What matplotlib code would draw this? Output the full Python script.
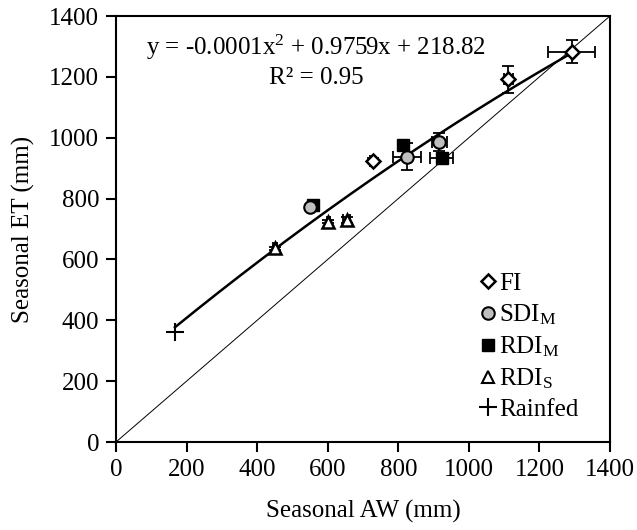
import numpy as np
import matplotlib
matplotlib.use("Agg")
import matplotlib.pyplot as plt
from matplotlib.lines import Line2D

plt.rcParams['font.family'] = ['Liberation Serif', 'DejaVu Serif']
plt.rcParams['mathtext.fontset'] = 'custom'
plt.rcParams['mathtext.rm'] = 'Liberation Serif'
plt.rcParams['mathtext.it'] = 'Liberation Serif:italic'

# ---- data ----
fi_x = [1291, 1112, 727]
fi_y = [1283, 1192, 924]
fi_xerr = [66, 12, 8]
fi_yerr = [37, 44, 8]

sdi_x = [550, 824, 916]
sdi_y = [771, 938, 987]
sdi_xerr = [0, 39, 21]
sdi_yerr = [0, 45, 29]

rdim_x = [559, 814, 923]
rdim_y = [779, 976, 932]
rdim_xerr = [0, 0, 33]
rdim_yerr = [0, 0, 0]

rdis_x = [451, 602, 654]
rdis_y = [637, 724, 730]
rdis_xerr = [5, 5, 10]
rdis_yerr = [5, 5, 10]

rain_x = [167]
rain_y = [360]

eq_text = "y = -0.0001x$^{2}$ + 0.9759x + 218.82"
r2_text = "R² = 0.95"

ticks = [0, 200, 400, 600, 800, 1000, 1200, 1400]

fig = plt.figure(figsize=(6.37, 5.30), dpi=100)
ax = fig.add_axes([0.1821, 0.166, 0.7755, 0.8038])

ax.set_xlim(0, 1400)
ax.set_ylim(0, 1400)

# 1:1 line
ax.plot([0, 1400], [0, 1400], color='black', lw=0.7, zorder=1)

# quadratic fit through all points
allx = np.array(fi_x + sdi_x + rdim_x + rdis_x + rain_x, dtype=float)
ally = np.array(fi_y + sdi_y + rdim_y + rdis_y + rain_y, dtype=float)
coef = np.polyfit(allx, ally, 2)
xx = np.linspace(allx.min(), allx.max(), 200)
ax.plot(xx, np.polyval(coef, xx), color='black', lw=1.8, zorder=2)

ekw = dict(ecolor='black', elinewidth=1.3, capsize=4.5, capthick=1.3, fmt='none', zorder=3)
ax.errorbar(fi_x, fi_y, xerr=fi_xerr, yerr=fi_yerr, **ekw)
ax.errorbar(sdi_x, sdi_y, xerr=sdi_xerr, yerr=sdi_yerr, **ekw)
ax.errorbar(rdim_x, rdim_y, xerr=rdim_xerr, yerr=rdim_yerr, **ekw)
ax.errorbar(rdis_x, rdis_y, xerr=rdis_xerr, yerr=rdis_yerr, **ekw)

ax.plot(rdim_x, rdim_y, ls='none', marker='s', ms=9, mfc='black', mec='black', zorder=4)
ax.plot(sdi_x, sdi_y, ls='none', marker='o', ms=9, mfc='#bfbfbf', mec='black', mew=1.5, zorder=5)
ax.plot(fi_x, fi_y, ls='none', marker='D', ms=7, mfc='white', mec='black', mew=1.8, zorder=5)
ax.plot(rdis_x, rdis_y, ls='none', marker='^', ms=9, mfc='white', mec='black', mew=1.8, zorder=5)
ax.plot(rain_x, rain_y, ls='none', marker='+', ms=13, mec='black', mew=1.5, zorder=5)

ax.text(567, 1298, eq_text, ha='center', va='center', fontsize=18)
ax.text(567, 1196, r2_text, ha='center', va='center', fontsize=18)

handles = [
    Line2D([], [], ls='none', marker='D', ms=7, mfc='white', mec='black', mew=1.8),
    Line2D([], [], ls='none', marker='o', ms=9, mfc='#bfbfbf', mec='black', mew=1.5),
    Line2D([], [], ls='none', marker='s', ms=9, mfc='black', mec='black'),
    Line2D([], [], ls='none', marker='^', ms=9, mfc='white', mec='black', mew=1.5),
    Line2D([], [], ls='none', marker='+', ms=13, mec='black', mew=1.5),
]
labels = ['FI', 'SDI$_{\\mathrm{M}}$', 'RDI$_{\\mathrm{M}}$', 'RDI$_{\\mathrm{S}}$', 'Rainfed']
ax.legend(handles, labels, loc='lower left', bbox_to_anchor=(0.70, 0.008),
          frameon=False, fontsize=18, handlelength=0.7, handletextpad=0.1,
          labelspacing=0.30, borderpad=0.2)

ax.set_xticks(ticks)
ax.set_yticks(ticks)
ax.tick_params(axis='both', direction='out', length=7, width=1.5, labelsize=18,
               top=False, right=False, pad=5)
for s in ax.spines.values():
    s.set_linewidth(1.5)

ax.set_xlabel('Seasonal AW (mm)', fontsize=18, labelpad=14)
ax.set_ylabel('Seasonal ET (mm)', fontsize=18, labelpad=10)

fig.savefig('out.png', dpi=100)
